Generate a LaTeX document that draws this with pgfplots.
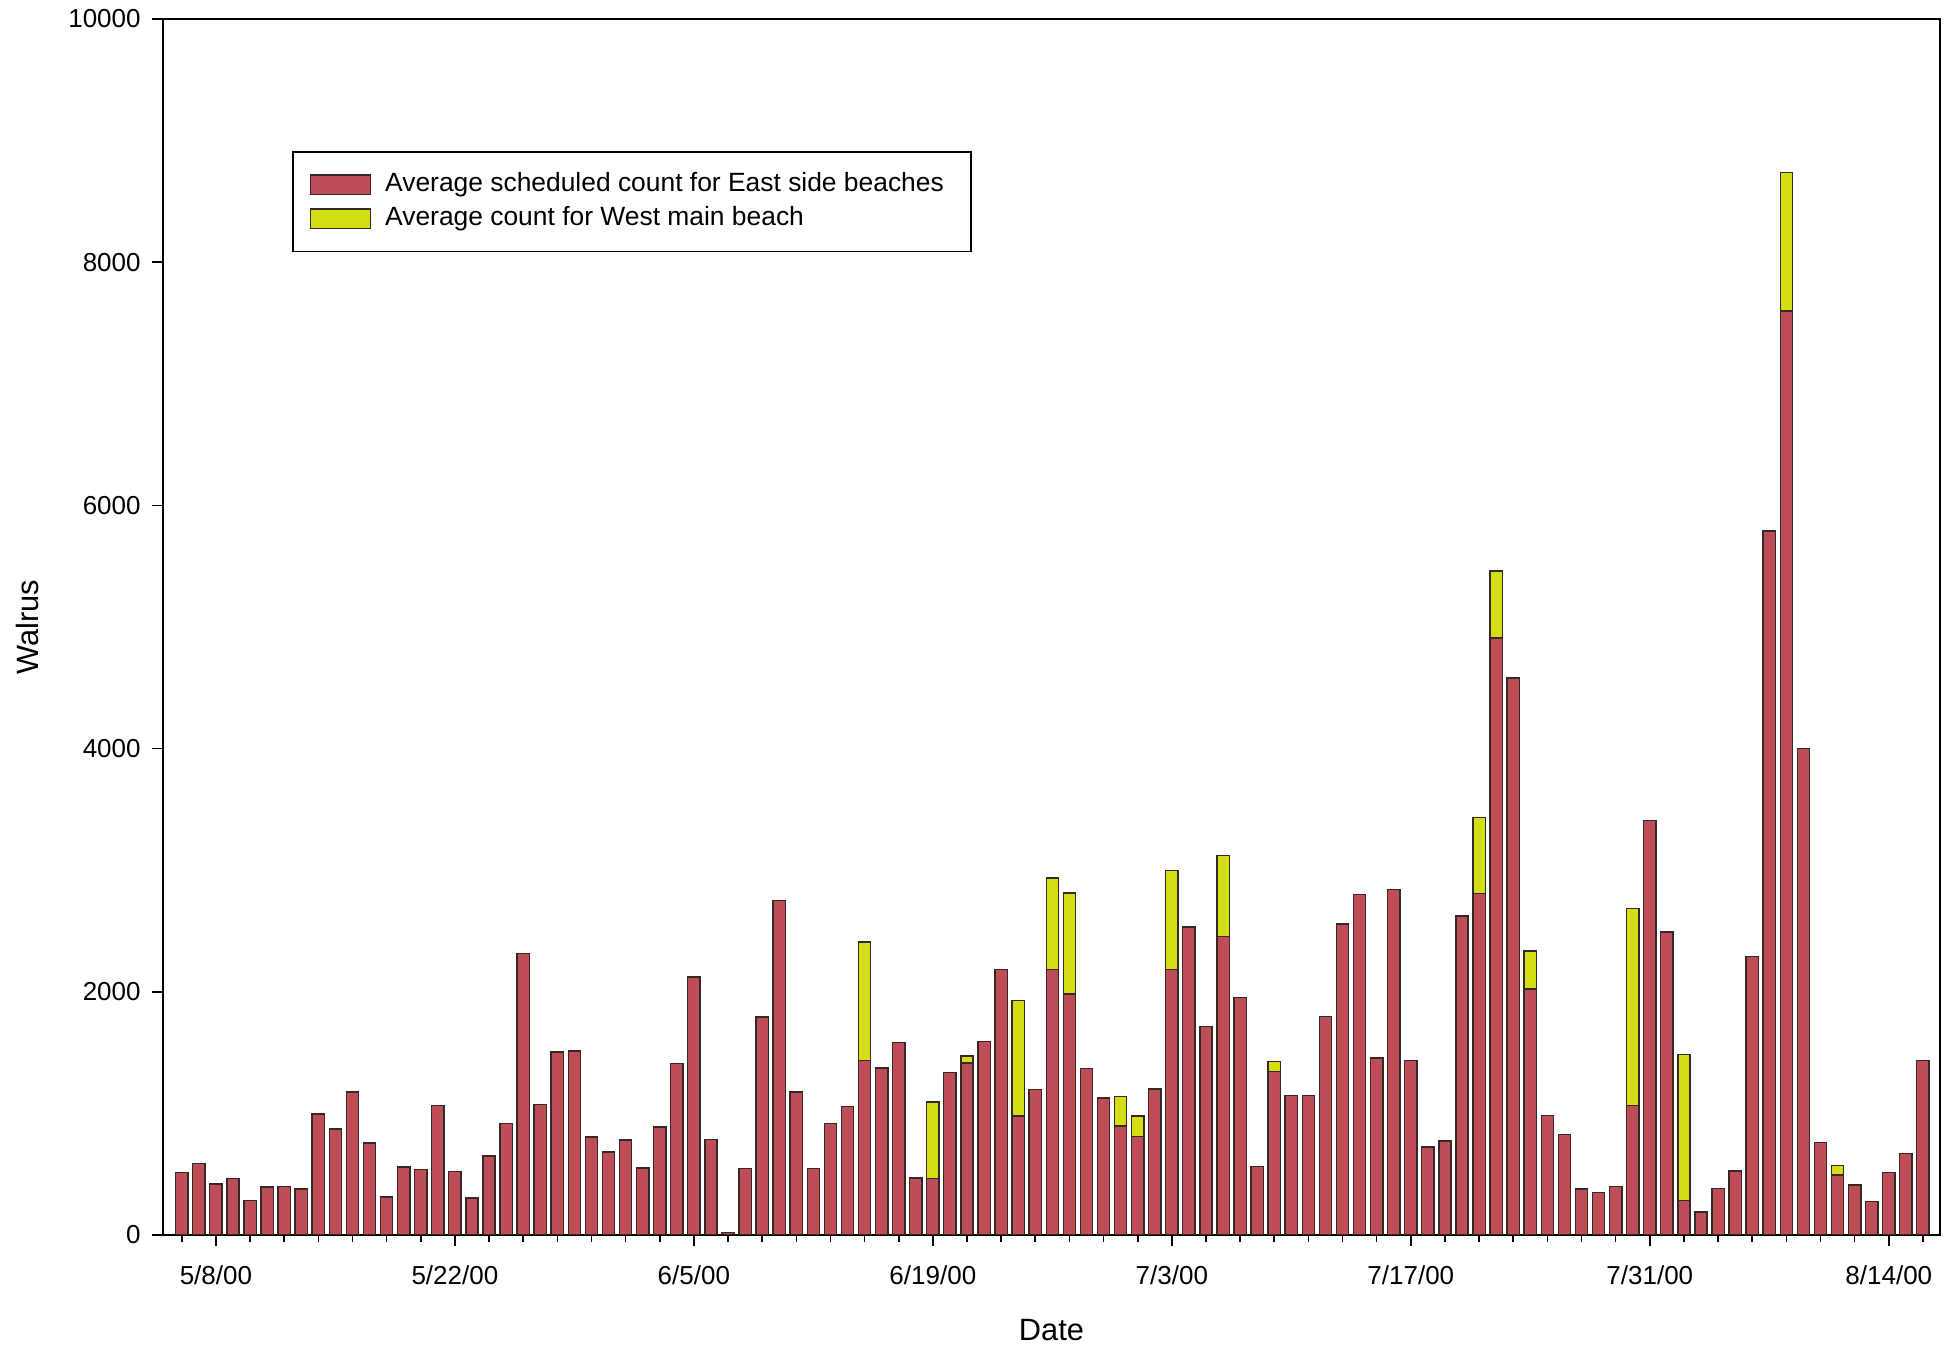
\documentclass[border=0pt]{standalone}
\usepackage{pgfplots}
\pgfplotsset{compat=1.18}
\usepackage{pgfplotstable}
\usepackage{fontspec}
\setmainfont{Liberation Sans}
\definecolor{eastred}{RGB}{191,77,87}
\definecolor{westyel}{RGB}{212,222,20}
\definecolor{barline}{RGB}{55,40,40}
\pgfplotsset{my bar legend/.style={legend image code/.code={\draw[##1] (0pt,-2.4pt) rectangle (15pt,2.4pt);}}}

% x = days after 5/8/00 (5/8/00 = 0)
\pgfplotstableread{
x east west
-2 513 0
-1 590 0
0 420 0
1 466 0
2 283 0
3 395 0
4 398 0
5 379 0
6 996 0
7 872 0
8 1177 0
9 757 0
10 313 0
11 560 0
12 538 0
13 1067 0
14 524 0
15 304 0
16 650 0
17 916 0
18 2315 0
19 1073 0
20 1506 0
21 1514 0
22 806 0
23 683 0
24 782 0
25 551 0
26 889 0
27 1410 0
28 2123 0
29 787 0
30 20 0
31 546 0
32 1791 0
33 2751 0
34 1177 0
35 546 0
36 919 0
37 1056 0
38 1435 973
39 1372 0
40 1583 0
41 469 0
42 464 628
43 1336 0
44 1413 60
45 1591 0
46 2183 0
47 979 949
48 1196 0
49 2181 754
50 1983 829
51 1369 0
52 1125 0
53 897 241
54 809 170
55 1199 0
56 2181 817
57 2532 0
58 1714 0
59 2455 667
60 1953 0
61 565 0
62 1344 82
63 1149 0
64 1149 0
65 1797 0
66 2559 0
67 2798 0
68 1454 0
69 2839 0
70 1435 0
71 724 0
72 774 0
73 2622 0
74 2807 628
75 4908 551
76 4582 0
77 2022 315
78 985 0
79 828 0
80 379 0
81 348 0
82 400 0
83 1067 1616
84 3410 0
85 2493 0
86 285 1199
87 189 0
88 384 0
89 527 0
90 2290 0
91 5788 0
92 7597 1141
93 4000 0
94 763 0
95 494 79
96 411 0
97 277 0
98 513 0
99 672 0
100 1435 0
}\walrus

\begin{document}
\begin{tikzpicture}
\useasboundingbox (-40.75pt,-28pt) rectangle (447.25pt,308.75pt);
\begin{axis}[
  at={(0,0)}, anchor=south west,
  scale only axis, width=444.25pt, height=304pt,
  xmin=-3.1, xmax=101, ymin=0, ymax=10000,
  ybar stacked, bar width=0.72,
  axis line style={line width=0.5pt, black},
  xtick={0,14,...,98},
  xticklabels={5/8/00,5/22/00,6/5/00,6/19/00,7/3/00,7/17/00,7/31/00,8/14/00},
  minor xtick={-2,0,...,100},
  ytick={0,2000,...,10000},
  yticklabels={0,2000,4000,6000,8000,10000},
  tick align=outside, xtick pos=left, ytick pos=left,
  major tick length=2.7pt, minor tick length=1.7pt,
  tick style={black, line width=0.4pt},
  ticklabel style={font=\fontsize{6.5}{7.5}\selectfont},
  xticklabel style={yshift=-1.5pt},
  yticklabel style={inner sep=0.5pt, xshift=-2.2pt},
  xlabel={Date}, ylabel={Walrus},
  label style={font=\fontsize{7.7}{9}\selectfont},
  xlabel style={at={(axis description cs:0.5,-0.078)}, anchor=center},
  ylabel style={at={(axis description cs:-0.0765,0.5)}, anchor=center},
  legend cell align=left,
  legend style={at={(rel axis cs:0.0726,0.8914)}, anchor=north west,
    draw=black, line width=0.4pt, font=\fontsize{6.6}{7.6}\selectfont,
    inner xsep=4.25pt, inner ysep=4.6pt, column sep=3pt, row sep=1.2pt,
    nodes={inner sep=0.5pt}},
]
\addplot[fill=eastred, draw=barline, line width=0.35pt, my bar legend]
  table[x=x,y=east]{\walrus};
\addlegendentry{Average scheduled count for East side beaches\kern2pt}
\addplot[fill=westyel, draw=barline, line width=0.35pt, my bar legend]
  table[x=x,y=west]{\walrus};
\addlegendentry{Average count for West main beach}
\end{axis}
\end{tikzpicture}
\end{document}
